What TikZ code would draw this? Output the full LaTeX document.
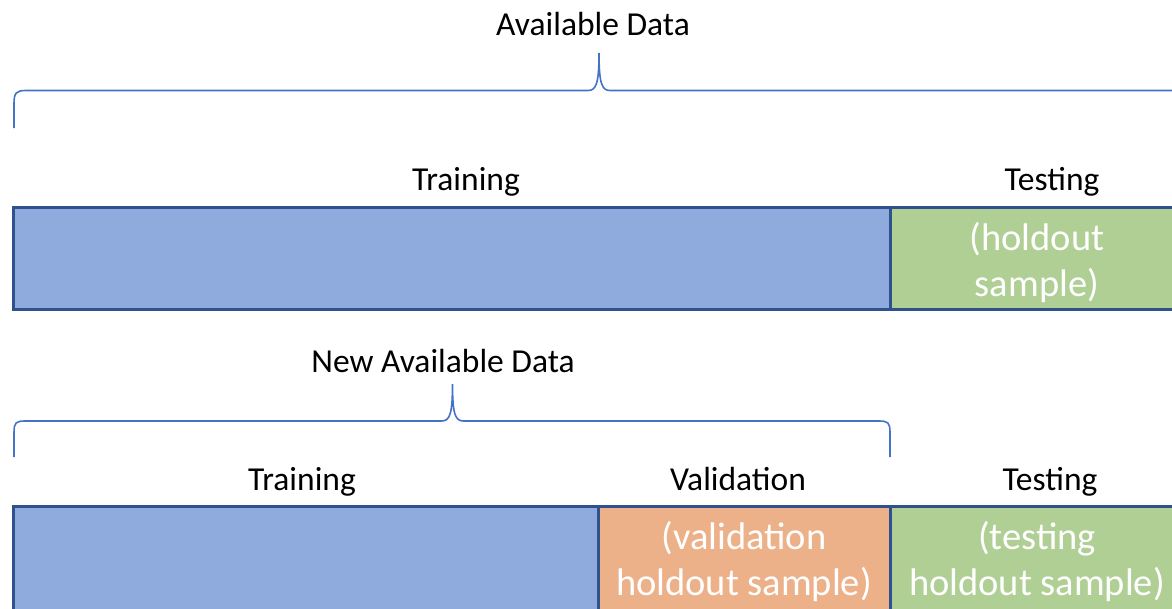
\documentclass[tikz,border=0pt]{standalone}
\usepackage{fontspec}
\setmainfont{Carlito}
\usetikzlibrary{calc}
\definecolor{edgeblue}{HTML}{2F528F}
\definecolor{braceblue}{HTML}{4472C4}
\definecolor{trainfill}{HTML}{8FAADC}
\definecolor{testfill}{HTML}{B0CF94}
\definecolor{validfill}{HTML}{ECB189}

\begin{document}
\begin{tikzpicture}[x=1pt,y=-1pt,
    part/.style={draw=edgeblue, line width=3pt, inner sep=0pt, outer sep=0pt, anchor=north west},
    lbl/.style={font=\fontsize{33.5}{40}\selectfont, inner sep=0pt, anchor=base},
    inlbl/.style={font=\fontsize{38.5}{46}\selectfont, text=white, align=center, inner sep=0pt},
    brace/.style={draw=braceblue, line width=1.6pt}]
  \useasboundingbox (0,0) rectangle (1172,608);
  \clip (0,0) rectangle (1172,608);

  % first split
  \node[part, fill=trainfill, minimum width=876.5, minimum height=102] (trainA) at (13.5,207) {};
  \node[part, fill=testfill, minimum width=400, minimum height=102] (testA) at (890,207) {};
  \node[inlbl] (testAin) at (1037,263) {(holdout\\sample)};
  \node[lbl] (trainAtxt) at (466,190) {Training};
  \node[lbl] (testAtxt) at (1052,190) {Testing};

  \coordinate (availL) at (14,128);
  \coordinate (availTip) at (599,53);
  \coordinate (availR) at (1180,90.5);
  \draw[brace] (availL) -- ++(0,-24) .. controls +(0,-11) and +(-10,0) .. ++(12,-13.5)
    -- ($(availTip)+(-11,37.5)$) .. controls +(8,0) and +(0,31) .. (availTip)
    .. controls +(0,31) and +(-8,0) .. ++(11,37.5) -- (availR);
  \node[lbl] (availTxt) at (593,35) {Available Data};

  % second split
  \node[part, fill=trainfill, minimum width=584.5, minimum height=150] (trainB) at (13.5,506) {};
  \node[part, fill=validfill, minimum width=292, minimum height=150] (validB) at (598,506) {};
  \node[part, fill=testfill, minimum width=400, minimum height=150] (testB) at (890,506) {};
  \node[inlbl] (validBin) at (744,562) {(validation\\holdout sample)};
  \node[inlbl] (testBin) at (1037,562) {(testing\\holdout sample)};
  \node[lbl] (trainBtxt) at (302,490) {Training};
  \node[lbl] (validBtxt) at (738,490) {Validation};
  \node[lbl] (testBtxt) at (1050,490) {Testing};

  \coordinate (newL) at (14,457);
  \coordinate (newTip) at (452.5,384);
  \coordinate (newR) at (890,457);
  \draw[brace] (newL) -- ++(0,-24) .. controls +(0,-11) and +(-10,0) .. ++(12,-12)
    -- ($(newTip)+(-11,37)$) .. controls +(8,0) and +(0,31) .. (newTip)
    .. controls +(0,31) and +(-8,0) .. ++(11,37)
    -- ($(newR)+(-12,-36)$) .. controls +(10,0) and +(0,-11) .. (newR|-433,433) -- (newR);
  \node[lbl] (newTxt) at (443,372) {New Available Data};
\end{tikzpicture}
\end{document}
